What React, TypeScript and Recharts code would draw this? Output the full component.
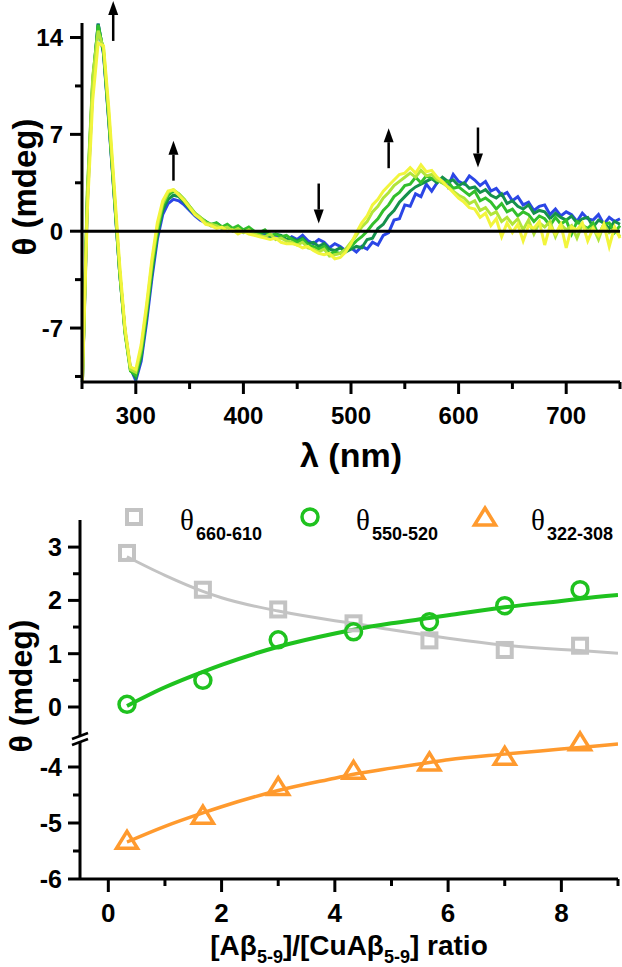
import {
  LineChart,
  ComposedChart,
  Line,
  Scatter,
  XAxis,
  YAxis,
  ReferenceLine,
  ReferenceDot,
  Legend,
} from "recharts";

// ---------------------------------------------------------------------------
// Fonts / colors
// ---------------------------------------------------------------------------

const FONT = "'Liberation Sans', Arial, sans-serif";
const SERIF = "'Liberation Serif', 'Times New Roman', serif";

const SPECTRUM_COLORS = ["#2b46e6", "#15914c", "#33bf2c", "#b2e53a", "#f2f53c"];
const GRAY = "#c3c3c3";
const GREEN = "#1fc21f";
const ORANGE = "#ff9a2e";

// ---------------------------------------------------------------------------
// Top panel: CD spectra (nm, mdeg)
// ---------------------------------------------------------------------------

const WAVELENGTHS = [
  250, 255, 260, 265, 270, 275, 280, 285, 290, 295, 300, 305, 310, 315, 320, 325, 330, 335, 340, 345,
  350, 355, 360, 365, 370, 375, 380, 385, 390, 395, 400, 405, 410, 415, 420, 425, 430, 435, 440, 445,
  450, 455, 460, 465, 470, 475, 480, 485, 490, 495, 500, 505, 510, 515, 520, 525, 530, 535, 540, 545,
  550, 555, 560, 565, 570, 575, 580, 585, 590, 595, 600, 605, 610, 615, 620, 625, 630, 635, 640, 645,
  650, 655, 660, 665, 670, 675, 680, 685, 690, 695, 700, 705, 710, 715, 720, 725, 730, 735, 740, 745,
  750,
];

const SPECTRUM_BLUE = [
  -12, 2.0, 10.5, 15.0, 12.8, 7.8, 2.4, -3.0, -7.2, -9.9, -10.8, -9.4, -6.6, -3.4, -0.6, 1.2, 2.0, 2.3, 2.2, 1.9,
  1.5, 1.1, 0.8, 0.6, 0.4, 0.5, 0.2, 0.3, 0.1, 0.2,
  -0.1, 0.1, -0.2, -0.3, -0.2, -0.5, -0.3, -0.4, -0.7, -0.4,
  -0.6, -0.3, -0.7, -0.9, -0.6, -0.8, -1.2, -0.9, -1.1, -1.4,
  -1.2, -1.5, -1.1, -1.3, -0.8, -1.0, -0.3, -0.1, 0.8, 0.9,
  1.9, 1.8, 2.7, 2.5, 3.4, 2.9, 3.5, 3.8, 3.2, 4.1,
  3.6, 3.4, 4.0, 3.7, 3.3, 3.6, 2.9, 3.1, 2.6, 2.8,
  2.2, 2.5, 1.9, 2.1, 1.5, 1.8, 1.9, 1.2, 1.6, 1.1,
  1.4, 1.2, 0.7, 1.3, 0.9, 0.8, 1.2, 0.5, 1.0, 0.7,
  0.9,
];

const SPECTRUM_TEAL = [
  -12, 2.4, 10.8, 15.0, 12.9, 7.9, 2.5, -3.0, -7.3, -10.0, -10.6, -9.1, -6.2, -3.0, -0.3, 1.5, 2.3, 2.6, 2.5, 2.1,
  1.6, 1.2, 0.9, 0.7, 0.4, 0.6, 0.3, 0.4, 0.1, 0.3,
  0.0, 0.2, -0.1, -0.2, -0.1, -0.4, -0.2, -0.3, -0.6, -0.5,
  -0.7, -0.5, -0.9, -0.8, -1.1, -0.9, -1.3, -1.4, -1.2, -1.5,
  -1.3, -1.1, -1.2, -0.6, -0.5, 0.2, 0.5, 1.1, 1.5, 2.1,
  2.5, 2.9, 3.2, 3.4, 3.6, 3.8, 3.5, 3.9, 3.6, 3.7,
  3.3, 3.5, 3.1, 3.2, 2.8, 3.0, 2.6, 2.4, 2.7, 2.0,
  2.2, 1.8, 1.6, 1.9, 1.3, 1.5, 1.4, 0.9, 1.3, 1.0,
  0.8, 1.1, 0.6, 0.9, 1.0, 0.3, 0.8, 0.6, 0.2, 0.7,
  0.5,
];

const SPECTRUM_GREEN = [
  -12, 2.8, 11.0, 14.9, 13.0, 8.0, 2.6, -3.0, -7.4, -10.1, -10.4, -8.8, -5.9, -2.6, 0.0, 1.8, 2.6, 2.9, 2.7, 2.3,
  1.8, 1.3, 1.0, 0.7, 0.5, 0.6, 0.3, 0.5, 0.2, 0.4,
  0.1, 0.3, 0.0, -0.1, 0.1, -0.3, -0.2, -0.4, -0.3, -0.6,
  -0.8, -0.6, -1.0, -1.1, -1.3, -1.1, -1.6, -1.5, -1.6, -1.3,
  -1.1, -0.7, -0.4, 0.0, 0.5, 0.9, 1.5, 1.9, 2.5, 2.8,
  3.3, 3.4, 3.9, 3.5, 4.0, 3.8, 3.7, 3.5, 3.6, 3.1,
  3.2, 2.9, 2.6, 2.9, 2.2, 2.4, 2.1, 1.6, 2.0, 1.4,
  1.6, 1.1, 1.4, 1.2, 0.7, 1.1, 0.9, 0.4, 1.0, 0.5,
  0.8, -0.2, 0.7, 0.4, 0.2, 0.6, -0.3, 0.5, 0.6, -0.1,
  0.4,
];

const SPECTRUM_LIME = [
  -12, 3.0, 11.2, 14.5, 13.2, 8.3, 2.8, -2.8, -7.3, -10.0, -10.2, -8.5, -5.6, -2.3, 0.3, 2.0, 2.8, 3.0, 2.7, 2.3,
  1.8, 1.3, 1.0, 0.6, 0.5, 0.4, 0.2, 0.3, 0.0, 0.2,
  -0.1, 0.1, -0.2, -0.3, -0.4, -0.2, -0.6, -0.5, -0.7, -0.8,
  -1.0, -0.8, -1.2, -1.3, -1.5, -1.3, -1.8, -1.7, -1.6, -1.3,
  -0.8, -0.3, 0.3, 0.7, 1.4, 1.8, 2.4, 2.8, 3.3, 3.6,
  3.9, 4.2, 3.9, 4.4, 4.0, 4.1, 3.7, 3.5, 3.2, 2.9,
  2.6, 2.4, 2.0, 2.2, 1.5, 1.7, 1.2, 1.4, 0.7, 1.0,
  0.5, 0.9, 0.1, 0.8, -0.2, 0.6, 0.3, 0.7, -0.4, 0.5,
  0.1, 0.4, -0.5, 0.5, 0.0, 0.3, -0.6, 0.5, -0.1, 0.2,
  -0.4,
];

const SPECTRUM_YELLOW = [
  -12, 1.5, 9.5, 13.6, 13.4, 8.8, 3.2, -2.4, -7.0, -9.8, -10.0, -8.2, -5.3, -2.0, 0.6, 2.2, 2.9, 3.0, 2.6, 2.2,
  1.7, 1.2, 0.9, 0.5, 0.4, 0.2, 0.3, 0.0, 0.1, -0.2,
  0.0, -0.2, -0.3, -0.4, -0.5, -0.6, -0.5, -0.8, -0.9, -0.9,
  -1.0, -1.2, -1.1, -1.4, -1.6, -1.7, -1.6, -2.0, -1.9, -1.5,
  -0.9, -0.1, 0.6, 1.1, 1.9, 2.3, 2.9, 3.3, 3.7, 4.1,
  4.2, 4.6, 4.2, 4.8, 4.3, 4.4, 3.9, 3.6, 3.2, 2.8,
  2.4, 2.1, 1.7, 1.6, 1.0, 1.3, 0.4, 0.9, -0.4, 0.6,
  -0.1, 0.5, -0.7, 0.4, 0.2, 0.7, -1.0, 0.4, -0.2, 0.5,
  -1.2, 0.3, 0.1, 0.6, -0.7, 0.2, -0.3, 0.5, -1.1, 0.3,
  -0.5,
];

const SPECTRA = [SPECTRUM_BLUE, SPECTRUM_TEAL, SPECTRUM_GREEN, SPECTRUM_LIME, SPECTRUM_YELLOW];

const TOP_X_TICKS = [250, 300, 350, 400, 450, 500, 550, 600, 650, 700, 750];
const TOP_X_LABELS = [300, 400, 500, 600, 700];
const TOP_Y_TICKS = [-10.5, -7, -3.5, 0, 3.5, 7, 10.5, 14];
const TOP_Y_LABELS = [-7, 0, 7, 14];

// arrows marking the direction of change during the titration
const ARROW_WAVELENGTHS = [279, 335, 470, 535, 618];
const ARROW_LEVELS = [15.2, 5.1, 2.0, 6.0, 6.05];
const ARROW_UP = [true, true, false, true, false];

// ---------------------------------------------------------------------------
// Bottom panel: ellipticity vs ratio
// ---------------------------------------------------------------------------

const RATIOS = [0.33, 1.67, 3.0, 4.33, 5.67, 7.0, 8.33];
const THETA_660_610 = [2.89, 2.2, 1.83, 1.57, 1.25, 1.07, 1.15];
const THETA_550_520 = [0.05, 0.5, 1.26, 1.41, 1.6, 1.9, 2.2];
const THETA_322_308 = [-5.31, -4.86, -4.35, -4.06, -3.91, -3.81, -3.55];

const FIT_X = [0.33, 1, 1.67, 2, 3, 4, 4.33, 5, 5.67, 6, 7, 8, 8.33, 9];
const FIT_660_610 = [2.82, 2.47, 2.17, 2.05, 1.8, 1.62, 1.57, 1.45, 1.34, 1.29, 1.16, 1.08, 1.06, 1.01];
const FIT_550_520 = [0.02, 0.37, 0.66, 0.79, 1.13, 1.38, 1.45, 1.57, 1.67, 1.72, 1.87, 1.99, 2.03, 2.1];
const FIT_322_308 = [-5.34, -5.06, -4.82, -4.71, -4.42, -4.2, -4.13, -4.02, -3.92, -3.87, -3.77, -3.68, -3.65, -3.59];

const BOTTOM_X_TICKS = [0, 1, 2, 3, 4, 5, 6, 7, 8, 9];
const BOTTOM_Y_TICKS = [-6, -5.5, -5, -4.5, -4, 0, 0.5, 1, 1.5, 2, 2.5, 3];
const BOTTOM_Y_LABELS = [-6, -5, -4, 0, 1, 2, 3];

// broken axis: upper segment (-0.55..3.5) and lower segment (-6..-3.5), in px
const UPPER_BASE = 172;
const UPPER_SCALE = 53.3;
const LOWER_SCALE = 56;
const BREAK_AT = 140;

function toPanel(v: number) {
  return v > -2 ? UPPER_BASE + UPPER_SCALE * v : LOWER_SCALE * (v + 6);
}

function fromPanel(d: number) {
  let best = BOTTOM_Y_TICKS[0];
  BOTTOM_Y_TICKS.forEach((v) => {
    if (Math.abs(toPanel(v) - d) < Math.abs(toPanel(best) - d)) best = v;
  });
  return best;
}

const spectraRows = WAVELENGTHS.map((wl, i) => {
  const row: Record<string, number> = { wl };
  SPECTRA.forEach((s, k) => (row[`s${k}`] = s[i]));
  return row;
});

const toPoints = (xs: number[], ys: number[]) => xs.map((x, i) => ({ x, y: toPanel(ys[i]) }));

// ---------------------------------------------------------------------------
// Ticks, labels and marks
// ---------------------------------------------------------------------------

function TopXTick({ x, y, payload }: any) {
  const v = payload.value;
  const major = TOP_X_LABELS.includes(v);
  return (
    <g>
      <line x1={x} x2={x} y1={y} y2={y + (major ? 12 : 7)} stroke="#000" strokeWidth={3} />
      {major && (
        <text x={x} y={y + 42} textAnchor="middle" fontFamily={FONT} fontWeight="bold" fontSize={24} fill="#000">
          {v}
        </text>
      )}
    </g>
  );
}

function TopYTick({ x, y, payload }: any) {
  const v = payload.value;
  const major = TOP_Y_LABELS.includes(v);
  return (
    <g>
      <line x1={x} x2={x - (major ? 12 : 7)} y1={y} y2={y} stroke="#000" strokeWidth={3} />
      {major && (
        <text x={x - 19} y={y + 8.5} textAnchor="end" fontFamily={FONT} fontWeight="bold" fontSize={24} fill="#000">
          {v}
        </text>
      )}
    </g>
  );
}

function BottomXTick({ x, y, payload }: any) {
  const v = payload.value;
  const major = v % 2 === 0;
  return (
    <g>
      <line x1={x} x2={x} y1={y} y2={y + (major ? 13 : 7)} stroke="#000" strokeWidth={3} />
      {major && (
        <text x={x} y={y + 43} textAnchor="middle" fontFamily={FONT} fontWeight="bold" fontSize={26} fill="#000">
          {v}
        </text>
      )}
    </g>
  );
}

function BottomYTick({ x, y, payload }: any) {
  const v = fromPanel(payload.value);
  const major = BOTTOM_Y_LABELS.includes(v);
  return (
    <g>
      <line x1={x} x2={x - (major ? 12 : 7)} y1={y} y2={y} stroke="#000" strokeWidth={3} />
      {major && (
        <text x={x - 18} y={y + 9} textAnchor="end" fontFamily={FONT} fontWeight="bold" fontSize={25} fill="#000">
          {v}
        </text>
      )}
    </g>
  );
}

function Arrow({ cx, cy, up }: any) {
  const dir = up ? -1 : 1;
  const tip = cy + dir * 20;
  const base = cy + dir * 6;
  return (
    <g>
      <line x1={cx} x2={cx} y1={cy - dir * 20} y2={base} stroke="#000" strokeWidth={2.5} />
      <path d={`M${cx - 5},${base} L${cx + 5},${base} L${cx},${tip} Z`} fill="#000" />
    </g>
  );
}

function AxisBreak({ cx, cy }: any) {
  return (
    <g>
      <rect x={cx - 4} y={cy - 3} width={8} height={6} fill="#fff" />
      <line x1={cx - 8} y1={cy} x2={cx + 8} y2={cy - 6} stroke="#000" strokeWidth={2.5} />
      <line x1={cx - 8} y1={cy + 6} x2={cx + 8} y2={cy} stroke="#000" strokeWidth={2.5} />
    </g>
  );
}

const SquareMark = ({ cx, cy }: any) => (
  <rect x={cx - 7} y={cy - 7} width={14} height={14} fill="none" stroke={GRAY} strokeWidth={4} />
);
const CircleMark = ({ cx, cy }: any) => (
  <circle cx={cx} cy={cy} r={8} fill="none" stroke={GREEN} strokeWidth={3.5} />
);
const TriangleMark = ({ cx, cy }: any) => (
  <path
    d={`M${cx},${cy - 9} L${cx + 10.5},${cy + 8} L${cx - 10.5},${cy + 8} Z`}
    fill="none"
    stroke={ORANGE}
    strokeWidth={3.5}
  />
);

function TopXTitle() {
  return (
    <text x={351} y={467} textAnchor="middle" fontFamily={FONT} fontWeight="bold" fontSize={34} fill="#000">
      λ (nm)
    </text>
  );
}

function TopYTitle() {
  return (
    <text
      x={36}
      y={187}
      transform="rotate(-90, 36, 187)"
      textAnchor="middle"
      fontFamily={FONT}
      fontWeight="bold"
      fontSize={33}
      fill="#000"
    >
      θ (mdeg)
    </text>
  );
}

function BottomYTitle() {
  return (
    <text
      x={32}
      y={206}
      transform="rotate(-90, 32, 206)"
      textAnchor="middle"
      fontFamily={FONT}
      fontWeight="bold"
      fontSize={32}
      fill="#000"
    >
      θ (mdeg)
    </text>
  );
}

function BottomXTitle() {
  return (
    <text x={349} y={475} textAnchor="middle" fontFamily={FONT} fontWeight="bold" fontSize={28} fill="#000">
      [Aβ<tspan fontSize={18} dy={8}>5-9</tspan>
      <tspan dy={-8}>]/[CuAβ</tspan>
      <tspan fontSize={18} dy={8}>5-9</tspan>
      <tspan dy={-8}>] ratio</tspan>
    </text>
  );
}

const LEGEND_ITEMS = [
  { mark: "square", x: 134, sub: "660-610" },
  { mark: "circle", x: 310, sub: "550-520" },
  { mark: "triangle", x: 485, sub: "322-308" },
];

function RatioLegend() {
  const cy = 37;
  return (
    <svg width={622} height={80} style={{ display: "block" }}>
      {LEGEND_ITEMS.map((item) => (
        <g key={item.sub}>
          {item.mark === "square" && <SquareMark cx={item.x} cy={cy} />}
          {item.mark === "circle" && <CircleMark cx={item.x} cy={cy} />}
          {item.mark === "triangle" && <TriangleMark cx={item.x} cy={cy} />}
          <text x={item.x + 46} y={cy + 13} fontFamily={SERIF} fontSize={29} fill="#000">
            θ
          </text>
          <text x={item.x + 62} y={cy + 23} fontFamily={FONT} fontWeight="bold" fontSize={18} fill="#000">
            {item.sub}
          </text>
        </g>
      ))}
    </svg>
  );
}

// ---------------------------------------------------------------------------
// Component
// ---------------------------------------------------------------------------

export default function App() {
  return (
    <div style={{ position: "absolute", left: 0, top: 0, width: 622, height: 967, background: "#fff" }}>
      <div style={{ position: "absolute", left: 0, top: 0 }}>
        <LineChart width={622} height={480} data={spectraRows} margin={{ top: 23, right: 2, left: 0, bottom: 38 }}>
          <XAxis
            dataKey="wl"
            type="number"
            domain={[250, 750]}
            ticks={TOP_X_TICKS}
            interval={0}
            tick={<TopXTick />}
            tickLine={false}
            tickSize={0}
            tickMargin={0}
            height={60}
            axisLine={{ stroke: "#000", strokeWidth: 3 }}
            label={<TopXTitle />}
          />
          <YAxis
            type="number"
            domain={[-10.9, 15.05]}
            allowDataOverflow
            ticks={TOP_Y_TICKS}
            interval={0}
            tick={<TopYTick />}
            tickLine={false}
            tickSize={0}
            tickMargin={0}
            width={82}
            axisLine={{ stroke: "#000", strokeWidth: 3 }}
            label={<TopYTitle />}
          />
          {SPECTRA.map((_, k) => (
            <Line
              key={k}
              dataKey={`s${k}`}
              type="linear"
              stroke={SPECTRUM_COLORS[k]}
              strokeWidth={3}
              dot={false}
              isAnimationActive={false}
            />
          ))}
          <ReferenceLine y={0} stroke="#000" strokeWidth={3} />
          {ARROW_WAVELENGTHS.map((wl, i) => (
            <ReferenceDot
              key={wl}
              x={wl}
              y={ARROW_LEVELS[i]}
              ifOverflow="visible"
              shape={(p: any) => <Arrow cx={p.cx} cy={p.cy} up={ARROW_UP[i]} />}
            />
          ))}
        </LineChart>
      </div>

      <div style={{ position: "absolute", left: 0, top: 480 }}>
        <ComposedChart width={622} height={487} margin={{ top: 40, right: 4, left: 0, bottom: 28 }}>
          <XAxis
            dataKey="x"
            type="number"
            domain={[-0.5, 9]}
            allowDataOverflow
            ticks={BOTTOM_X_TICKS}
            interval={0}
            tick={<BottomXTick />}
            tickLine={false}
            tickSize={0}
            tickMargin={0}
            height={60}
            axisLine={{ stroke: "#000", strokeWidth: 3 }}
            label={<BottomXTitle />}
          />
          <YAxis
            dataKey="y"
            type="number"
            domain={[0, 359]}
            allowDataOverflow
            ticks={BOTTOM_Y_TICKS.map(toPanel)}
            interval={0}
            tick={<BottomYTick />}
            tickLine={false}
            tickSize={0}
            tickMargin={0}
            width={80}
            axisLine={{ stroke: "#000", strokeWidth: 3 }}
            label={<BottomYTitle />}
          />
          <Legend
            layout="horizontal"
            verticalAlign="middle"
            align="center"
            content={<RatioLegend />}
            wrapperStyle={{ left: 0, top: 0, width: 622, height: 80 }}
          />
          <Line
            data={toPoints(FIT_X, FIT_660_610)}
            dataKey="y"
            type="monotone"
            stroke={GRAY}
            strokeWidth={3}
            dot={false}
            isAnimationActive={false}
            legendType="none"
          />
          <Scatter data={toPoints(RATIOS, THETA_660_610)} shape={<SquareMark />} isAnimationActive={false} />
          <Line
            data={toPoints(FIT_X, FIT_550_520)}
            dataKey="y"
            type="monotone"
            stroke={GREEN}
            strokeWidth={4}
            dot={false}
            isAnimationActive={false}
            legendType="none"
          />
          <Scatter data={toPoints(RATIOS, THETA_550_520)} shape={<CircleMark />} isAnimationActive={false} />
          <Line
            data={toPoints(FIT_X, FIT_322_308)}
            dataKey="y"
            type="monotone"
            stroke={ORANGE}
            strokeWidth={3.5}
            dot={false}
            isAnimationActive={false}
            legendType="none"
          />
          <Scatter data={toPoints(RATIOS, THETA_322_308)} shape={<TriangleMark />} isAnimationActive={false} />
          <ReferenceDot x={-0.5} y={BREAK_AT} ifOverflow="visible" shape={(p: any) => <AxisBreak cx={p.cx} cy={p.cy} />} />
        </ComposedChart>
      </div>
    </div>
  );
}
